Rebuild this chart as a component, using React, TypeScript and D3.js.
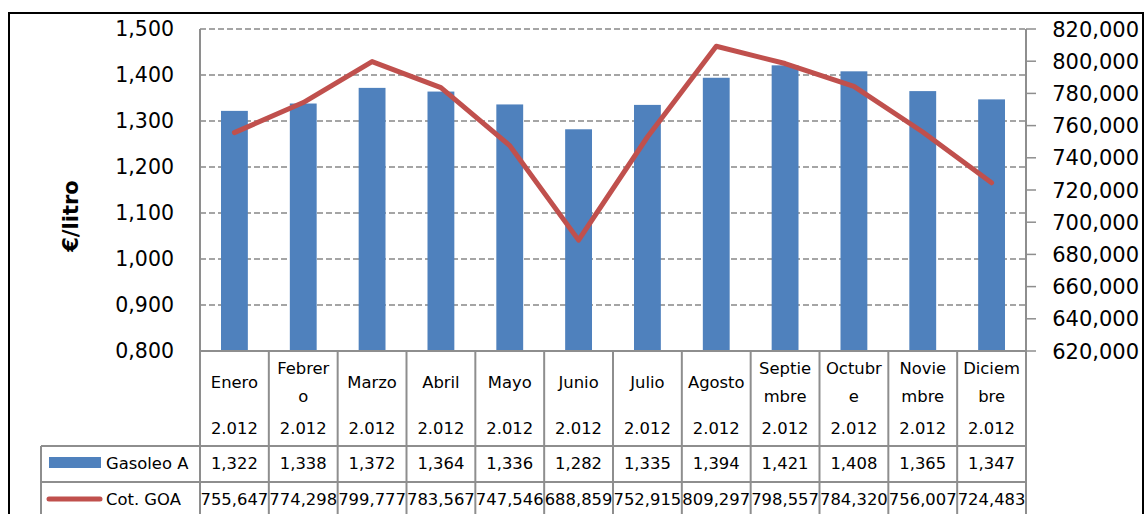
import React from "react";
import * as d3 from "d3";

const monthLines: string[][] = [
  ["Enero"], ["Febrer", "o"], ["Marzo"], ["Abril"], ["Mayo"], ["Junio"],
  ["Julio"], ["Agosto"], ["Septie", "mbre"], ["Octubr", "e"], ["Novie", "mbre"], ["Diciem", "bre"],
];
const yearLabel = "2.012";
const gasoleo = [1.322, 1.338, 1.372, 1.364, 1.336, 1.282, 1.335, 1.394, 1.421, 1.408, 1.365, 1.347];
const cotGoa = [755.647, 774.298, 799.777, 783.567, 747.546, 688.859, 752.915, 809.297, 798.557, 784.32, 756.007, 724.483];
const leftTicks = [0.8, 0.9, 1.0, 1.1, 1.2, 1.3, 1.4, 1.5];
const rightTicks = [620, 640, 660, 680, 700, 720, 740, 760, 780, 800, 820];
const seriesNames = ["Gasoleo A", "Cot. GOA"];

const W = 1145, H = 514;
const plotL = 200, plotR = 1026, plotT = 29, plotB = 351;
const FONT = "'DejaVu Sans', sans-serif";
const BLUE = "#4F81BD", RED = "#C0504D", GRID = "#888888", TBL = "#8E8E8E";

const fmt3 = (v: number) => {
  const s = v.toFixed(3);
  const [i, d] = s.split(".");
  return i + "," + d;
};

export default function App() {
  const idx = d3.range(12).map(String);
  const x = d3.scaleBand<string>().domain(idx).range([plotL, plotR]).paddingInner(0).paddingOuter(0);
  const cw = x.bandwidth();
  const yL = d3.scaleLinear().domain([0.8, 1.5]).range([plotB, plotT]);
  const yR = d3.scaleLinear().domain([620, 820]).range([plotB, plotT]);
  const barW = cw * 0.39;
  const cx = (i: number) => (x(String(i)) as number) + cw / 2;
  const line = d3.line<number>().x((_, i) => cx(i)).y((d) => yR(d));

  const rowHeadTop = plotB, rowYearBottom = 446, rowGasBottom = 482, tableBottom = 520;
  const legendL = 41;

  return (
    <svg width={W} height={H} style={{ position: "absolute", left: 0, top: 0, background: "#fff" }} fontFamily={FONT}>
      {/* outer border */}
      <rect x={9} y={13} width={1134} height={520} fill="none" stroke="#000" strokeWidth={2} />

      {/* gridlines */}
      {leftTicks.slice(1).map((t) => (
        <line key={"g" + t} x1={plotL} x2={plotR} y1={yL(t)} y2={yL(t)} stroke={GRID} strokeWidth={1.5} strokeDasharray="6,3" />
      ))}

      {/* bars */}
      {gasoleo.map((v, i) => (
        <rect key={"b" + i} x={cx(i) - barW / 2} y={yL(v)} width={barW} height={plotB - yL(v)} fill={BLUE} />
      ))}

      {/* left axis labels */}
      {leftTicks.map((t) => (
        <text key={"l" + t} x={174} y={yL(t)} dy="0.36em" textAnchor="end" fontSize={20.5} fill="#000">
          {fmt3(t)}
        </text>
      ))}

      {/* right axis */}
      <line x1={plotR} x2={plotR} y1={plotT} y2={plotB} stroke={TBL} strokeWidth={2} />
      {rightTicks.map((t) => (
        <g key={"r" + t}>
          <line x1={plotR} x2={plotR + 10} y1={yR(t)} y2={yR(t)} stroke={TBL} strokeWidth={1.5} />
          <text x={1139} y={yR(t)} dy="0.36em" textAnchor="end" fontSize={21} fill="#000">
            {fmt3(t)}
          </text>
        </g>
      ))}

      {/* y label */}
      <text transform={`translate(78,216) rotate(-90)`} textAnchor="middle" fontSize={21} fontWeight="bold" fill="#000">
        €/litro
      </text>

      {/* line series */}
      <path d={line(cotGoa) || ""} fill="none" stroke={RED} strokeWidth={5} strokeLinejoin="round" strokeLinecap="round" />

      {/* table lines */}
      <line x1={plotL} x2={plotL} y1={plotT} y2={tableBottom} stroke={TBL} strokeWidth={2} />
      <line x1={plotL} x2={plotR} y1={rowHeadTop} y2={rowHeadTop} stroke={TBL} strokeWidth={2} />
      {d3.range(1, 13).map((i) => (
        <line key={"v" + i} x1={plotL + i * cw} x2={plotL + i * cw} y1={rowHeadTop} y2={tableBottom} stroke={TBL} strokeWidth={2} />
      ))}
      <line x1={legendL} x2={legendL} y1={rowYearBottom} y2={tableBottom} stroke={TBL} strokeWidth={2} />
      <line x1={legendL} x2={plotR} y1={rowYearBottom} y2={rowYearBottom} stroke={TBL} strokeWidth={2} />
      <line x1={legendL} x2={plotR} y1={rowGasBottom} y2={rowGasBottom} stroke={TBL} strokeWidth={2} />

      {/* month headers */}
      {monthLines.map((ls, i) => (
        <g key={"m" + i} fontSize={16.4} fill="#000" textAnchor="middle">
          {ls.length === 1 ? (
            <text x={cx(i)} y={382} dy="0.36em">{ls[0]}</text>
          ) : (
            <>
              <text x={cx(i)} y={368} dy="0.36em">{ls[0]}</text>
              <text x={cx(i)} y={396} dy="0.36em">{ls[1]}</text>
            </>
          )}
          <text x={cx(i)} y={428} dy="0.36em">{yearLabel}</text>
        </g>
      ))}

      {/* legend cells */}
      <rect x={49} y={457} width={52} height={11} fill={BLUE} />
      <text x={106} y={463} dy="0.36em" fontSize={16.4} fill="#000">{seriesNames[0]}</text>
      <line x1={49} x2={100} y1={499} y2={499} stroke={RED} strokeWidth={5} strokeLinecap="round" />
      <text x={106} y={499} dy="0.36em" fontSize={16.4} fill="#000">{seriesNames[1]}</text>

      {/* values */}
      {gasoleo.map((v, i) => (
        <text key={"gv" + i} x={cx(i)} y={463} dy="0.36em" textAnchor="middle" fontSize={16.4} fill="#000">{fmt3(v)}</text>
      ))}
      {cotGoa.map((v, i) => (
        <text key={"cv" + i} x={cx(i)} y={499} dy="0.36em" textAnchor="middle" fontSize={16.4} fill="#000">{fmt3(v)}</text>
      ))}
    </svg>
  );
}
